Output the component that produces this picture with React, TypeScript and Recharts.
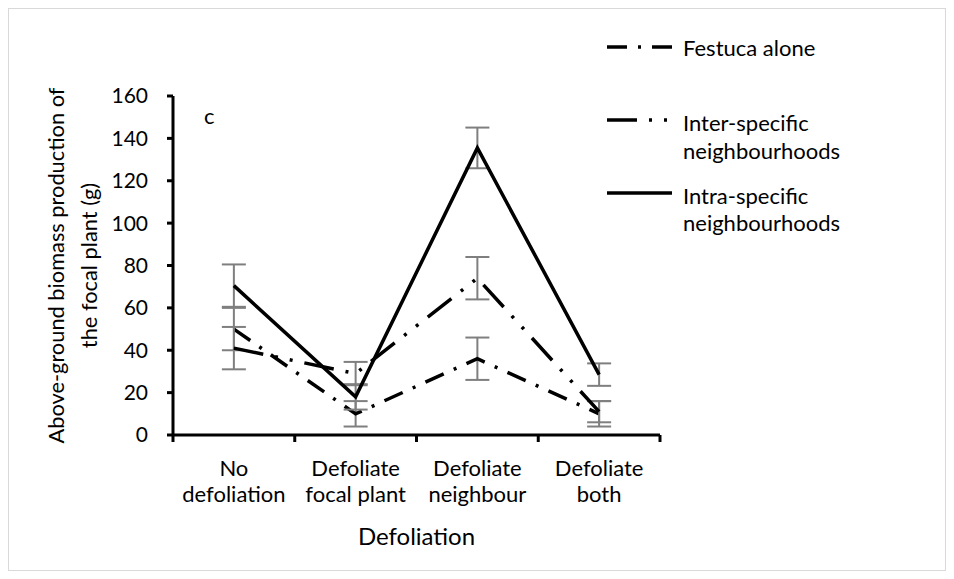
import React from 'react'
import {
  LineChart,
  Line,
  XAxis,
  YAxis,
  ErrorBar,
  Legend,
  Label,
} from 'recharts'

const catTop = ['No', 'Defoliate', 'Defoliate', 'Defoliate']
const catBottom = ['defoliation', 'focal plant', 'neighbour', 'both']

const festuca = [50, 10, 36, 10]
const festucaErr = [10, 6, 10, 6]
const inter = [41, 29, 74, 11]
const interErr = [10, 5.5, 10, 5]
const intra = [70.5, 18, 135.5, 28.5]
const intraErr = [10, 6, 9.6, 5.3]

const yTicks = [0, 20, 40, 60, 80, 100, 120, 140, 160]
const xTicks = [0, 0.5, 1, 1.5, 2, 2.5, 3, 3.5, 4]

const FONT = 'Lato, "Open Sans", sans-serif'
const FESTUCA_DASH = '20 11 3 11'
const INTER_DASH = '30 12 3 12 3 12'

const data = catTop.map((_, i) => ({
  x: i + 0.5,
  festuca: festuca[i],
  festucaErr: festucaErr[i],
  inter: inter[i],
  interErr: interErr[i],
  intra: intra[i],
  intraErr: intraErr[i],
}))

function CategoryTick(props: any) {
  const { x, y, payload } = props
  const v = payload.value
  if (Number.isInteger(v)) {
    return <line x1={x} x2={x} y1={y} y2={y + 7} stroke="#000" strokeWidth={3} />
  }
  const i = Math.floor(v)
  return (
    <g>
      <text x={x} y={y + 32} textAnchor="middle" dominantBaseline="central" fontSize={22} fill="#000" fontFamily={FONT}>
        {catTop[i]}
      </text>
      <text x={x} y={y + 58} textAnchor="middle" dominantBaseline="central" fontSize={22} fill="#000" fontFamily={FONT}>
        {catBottom[i]}
      </text>
    </g>
  )
}

function YTitle(props: any) {
  const { viewBox } = props
  const cy = viewBox.y + viewBox.height / 2
  return (
    <g fontFamily={FONT} fontSize={21.8} fill="#000">
      <text x={46} y={cy} transform={`rotate(-90 46 ${cy})`} textAnchor="middle" dominantBaseline="central">
        Above-ground biomass production of
      </text>
      <text x={79} y={cy} transform={`rotate(-90 79 ${cy})`} textAnchor="middle" dominantBaseline="central">
        the focal plant (g)
      </text>
    </g>
  )
}

function XTitle(props: any) {
  const { viewBox } = props
  return (
    <text x={viewBox.x + viewBox.width / 2} y={526} textAnchor="middle" dominantBaseline="central" fontFamily={FONT} fontSize={24} fill="#000">
      Defoliation
    </text>
  )
}

function LegendBox() {
  return (
    <svg width={320} height={230} style={{ display: 'block' }}>
      <g fontFamily={FONT} fontSize={22} fill="#000">
        <line x1={17} x2={82} y1={27} y2={27} stroke="#000" strokeWidth={3.5} strokeDasharray={FESTUCA_DASH} />
        <text x={93} y={27} dominantBaseline="central">Festuca alone</text>

        <line x1={17} x2={82} y1={100} y2={100} stroke="#000" strokeWidth={3.5} strokeDasharray={INTER_DASH} />
        <text x={93} y={102} dominantBaseline="central">Inter-specific</text>
        <text x={93} y={130} dominantBaseline="central">neighbourhoods</text>

        <line x1={17} x2={82} y1={173} y2={173} stroke="#000" strokeWidth={3.5} />
        <text x={93} y={175} dominantBaseline="central">Intra-specific</text>
        <text x={93} y={202} dominantBaseline="central">neighbourhoods</text>
      </g>
    </svg>
  )
}

export default function App() {
  return (
    <div
      style={{
        position: 'relative',
        width: 938,
        height: 563,
        border: '1px solid #d9d9d9',
        boxSizing: 'border-box',
        background: '#fff',
      }}
    >
      <LineChart width={936} height={561} data={data} margin={{ top: 87, right: 285, bottom: 35, left: 84 }}>
        <XAxis
          type="number"
          dataKey="x"
          domain={[0, 4]}
          ticks={xTicks}
          interval={0}
          tickLine={false}
          tickSize={0}
          tickMargin={0}
          axisLine={{ stroke: '#000', strokeWidth: 3 }}
          tick={<CategoryTick />}
          height={100}
        >
          <Label content={<XTitle />} />
        </XAxis>
        <YAxis
          type="number"
          domain={[0, 160]}
          ticks={yTicks}
          interval={0}
          width={80}
          tickSize={6}
          tickMargin={19}
          tickLine={{ stroke: '#000', strokeWidth: 3 }}
          axisLine={{ stroke: '#000', strokeWidth: 3 }}
          tick={{ fill: '#000', fontSize: 21, fontFamily: FONT }}
        >
          <Label content={<YTitle />} />
        </YAxis>
        <Legend
          layout="horizontal"
          verticalAlign="middle"
          align="center"
          content={<LegendBox />}
          wrapperStyle={{ top: 11, left: 581, width: 320 }}
        />
        <Line dataKey="festuca" stroke="#000" strokeWidth={3.5} strokeDasharray={FESTUCA_DASH} dot={false} isAnimationActive={false}>
          <ErrorBar dataKey="festucaErr" direction="y" width={12} stroke="#7f7f7f" strokeWidth={2} />
        </Line>
        <Line dataKey="inter" stroke="#000" strokeWidth={3.5} strokeDasharray={INTER_DASH} dot={false} isAnimationActive={false}>
          <ErrorBar dataKey="interErr" direction="y" width={12} stroke="#7f7f7f" strokeWidth={2} />
        </Line>
        <Line dataKey="intra" stroke="#000" strokeWidth={3.5} dot={false} isAnimationActive={false}>
          <ErrorBar dataKey="intraErr" direction="y" width={12} stroke="#7f7f7f" strokeWidth={2} />
        </Line>
      </LineChart>
      <div
        style={{
          position: 'absolute',
          left: 195,
          top: 93,
          fontFamily: FONT,
          fontSize: 22,
          color: '#000',
        }}
      >
        c
      </div>
    </div>
  )
}
